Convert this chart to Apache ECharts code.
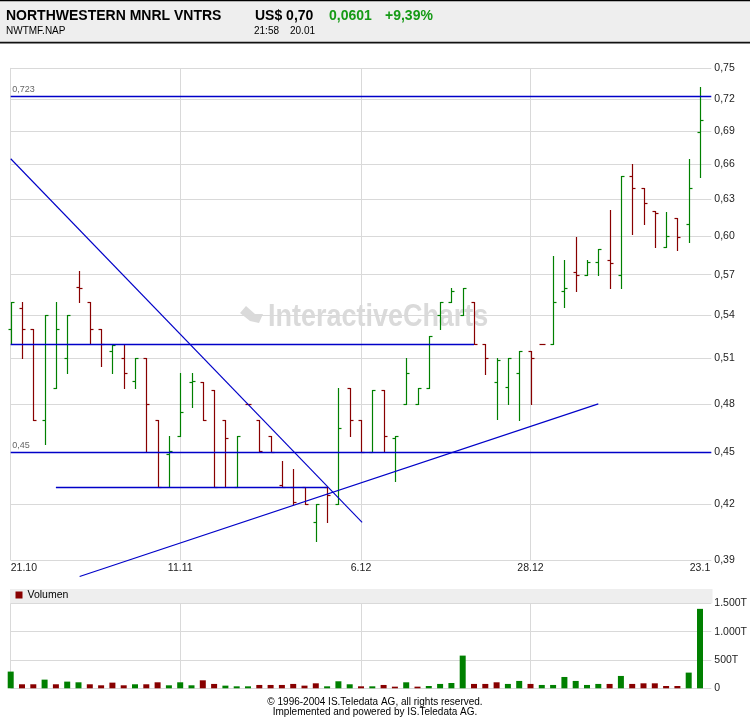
<!DOCTYPE html>
<html>
<head>
<meta charset="utf-8">
<script src="https://cdn.jsdelivr.net/npm/echarts@6/dist/echarts.min.js"></script>
<style>
html,body{margin:0;padding:0;background:#fff;}
#chart{width:750px;height:717px;}
</style>
</head>
<body>
<div id="chart"></div>
<script>
// ---------- data ----------
const dates = ['21.10','22.10','23.10','24.10','27.10','28.10','29.10','30.10','31.10','3.11',
  '4.11','5.11','6.11','7.11','10.11','11.11','12.11','13.11','14.11','17.11',
  '18.11','19.11','20.11','21.11','24.11','25.11','26.11','28.11','1.12','3.12',
  '4.12','6.12','8.12','9.12','10.12','11.12','12.12','15.12','16.12','17.12',
  '18.12','19.12','22.12','23.12','24.12','26.12','28.12','29.12','30.12','31.12',
  '2.1','5.1','6.1','7.1','8.1','9.1','12.1','13.1','14.1','15.1','16.1','23.1'];

const openP  = [0.530,0.545,0.530,0.470,0.490,0.510,0.561,0.550,0.530,0.515,
  0.510,0.495,0.510,0.470,0.449,0.460,0.494,0.494,0.489,0.470,
  0.430,0.480,0.470,0.460,0.431,0.430,0.430,0.410,0.430,0.420,
  0.490,0.470,0.450,0.489,0.459,0.480,0.480,0.490,0.540,0.550,
  0.540,0.550,0.520,0.494,0.491,0.500,0.515,0.520,0.520,0.558,
  0.572,0.570,0.580,0.581,0.570,0.650,0.640,0.620,0.591,0.615,0.610,0.689];
const highP  = [0.550,0.550,0.530,0.540,0.550,0.540,0.573,0.550,0.530,0.520,
  0.520,0.510,0.510,0.470,0.460,0.500,0.500,0.494,0.489,0.470,
  0.460,0.480,0.470,0.460,0.445,0.440,0.430,0.420,0.430,0.490,
  0.490,0.470,0.489,0.489,0.460,0.510,0.490,0.525,0.550,0.560,
  0.560,0.550,0.520,0.510,0.510,0.515,0.515,0.520,0.584,0.581,
  0.599,0.581,0.590,0.621,0.650,0.660,0.640,0.620,0.6195,0.615,0.665,0.732];
const lowP   = [0.520,0.510,0.470,0.455,0.490,0.500,0.550,0.520,0.505,0.500,
  0.490,0.490,0.450,0.430,0.430,0.460,0.478,0.470,0.430,0.430,
  0.430,0.480,0.450,0.450,0.430,0.420,0.420,0.400,0.410,0.420,
  0.460,0.450,0.450,0.450,0.433,0.480,0.480,0.490,0.530,0.550,
  0.540,0.520,0.4995,0.4705,0.480,0.470,0.480,0.520,0.520,0.546,
  0.558,0.570,0.570,0.560,0.560,0.602,0.610,0.591,0.591,0.589,0.595,0.649];
const closeP = [0.550,0.530,0.470,0.540,0.530,0.540,0.560,0.530,0.520,0.519,
  0.500,0.510,0.480,0.430,0.451,0.475,0.495,0.470,0.430,0.459,
  0.460,0.480,0.451,0.450,0.430,0.421,0.420,0.420,0.425,0.465,
  0.470,0.450,0.489,0.460,0.460,0.500,0.490,0.525,0.550,0.558,
  0.560,0.520,0.510,0.509,0.510,0.515,0.510,0.520,0.550,0.560,
  0.570,0.580,0.590,0.579,0.650,0.640,0.627,0.619,0.600,0.599,0.640,0.700];

// volume in thousands (T)
const volumeT = [295,71,71,153,71,118,106,71,53,100,
  53,71,71,106,53,106,53,141,77,47,
  35,35,59,59,59,77,47,88,35,124,
  71,35,35,59,29,106,29,41,77,94,
  577,77,77,106,77,130,77,59,59,200,
  130,59,77,77,218,77,88,88,41,41,277,1402];

const priceTicks  = [0.39,0.42,0.45,0.48,0.51,0.54,0.57,0.60,0.63,0.66,0.69,0.72,0.75];
const volumeTicks = [0,500,1000,1500];
const dateLabelIdx = [0,15,31,46,61];
const dateGridIdx  = [0,15,31,46];

// trend / support lines drawn on the chart: [x0, price0, x1, price1]
const trendLines  = [[0,0.723,62,0.723],[0,0.52,41,0.52],[0,0.45,62,0.45],[4,0.43,28,0.43],
                     [0,0.665,31.1,0.410],[6.1,0.3815,52,0.48]];
const trendLabels = ['0,723','','0,45','','',''];

// ---------- styling ----------
const GREEN = '#008000', RED = '#880000', BLUE = '#0000c8', GRID = '#d9d9d9';
const FONT = 'Liberation Sans, Arial, sans-serif';
const NBARS = dates.length;
const fmtPrice = v => v.toFixed(2).replace('.', ',');
const fmtVol = v => v === 0 ? '0' : (v >= 1000 ? Math.floor(v/1000) + '.' + String(v % 1000).padStart(3,'0') + 'T' : v + 'T');

const ohlcRows = dates.map((d,i) => [i, openP[i], highP[i], lowP[i], closeP[i]]);
const volRows = volumeT.map((v,i) => [i, v]);

const chart = echarts.init(document.getElementById('chart'), null, {renderer:'canvas'});

const gridW = 62 * 11.3;
chart.setOption({
  animation: false,
  backgroundColor: '#fff',
  textStyle: {fontFamily: FONT},
  grid: [
    {left: 10.7, top: 68.3, width: gridW, height: 491.7},
    {left: 10.7, top: 603.3, width: gridW, height: 85}
  ],
  legend: {
    data: [{name: 'Volumen', itemStyle: {color: RED}}],
    left: 15.5, top: 589.5, padding: 0, itemWidth: 7, itemHeight: 7, icon: 'rect',
    selectedMode: false,
    textStyle: {fontSize: 10.5, color: '#000', fontFamily: FONT}
  },
  xAxis: [
    {type: 'value', gridIndex: 0, min: 0, max: NBARS,
     axisLine: {show: false}, axisTick: {show: false}, splitLine: {show: false},
     axisLabel: {customValues: dateLabelIdx, formatter: v => dates[v], fontSize: 10.5,
                 color: '#222', margin: 3, alignMinLabel: 'left', fontFamily: FONT}},
    {type: 'value', gridIndex: 1, min: 0, max: NBARS, show: false}
  ],
  yAxis: [
    {type: 'log', logBase: 10, gridIndex: 0, min: priceTicks[0], max: priceTicks[priceTicks.length-1],
     position: 'right',
     axisLine: {show: true, lineStyle: {color: GRID}}, axisTick: {show: false},
     axisLabel: {show: false}, splitLine: {show: false}},
    {type: 'value', gridIndex: 1, min: volumeTicks[0], max: volumeTicks[volumeTicks.length-1],
     interval: volumeTicks[1] - volumeTicks[0], position: 'right',
     axisLine: {show: false}, axisTick: {show: false},
     axisLabel: {formatter: fmtVol, fontSize: 10.5, color: '#222', margin: 3, fontFamily: FONT},
     splitLine: {lineStyle: {color: GRID, width: 1}}}
  ],
  graphic: [
    {type: 'rect', z: -10, shape: {x: 0, y: 0, width: 750, height: 43}, style: {fill: '#eeeeee'}},
    {type: 'rect', z: -9, shape: {x: 0, y: 0, width: 750, height: 1.2}, style: {fill: '#000'}},
    {type: 'rect', z: -9, shape: {x: 0, y: 41.8, width: 750, height: 1.8}, style: {fill: '#111'}},
    {type: 'text', x: 6, y: 16, style: {text: 'NORTHWESTERN MNRL VNTRS', font: 'bold 14px ' + FONT, fill: '#000', verticalAlign: 'middle'}},
    {type: 'text', x: 255, y: 16, style: {text: 'US$ 0,70', font: 'bold 14px ' + FONT, fill: '#000', verticalAlign: 'middle'}},
    {type: 'text', x: 329, y: 16, style: {text: '0,0601', font: 'bold 14px ' + FONT, fill: '#159a15', verticalAlign: 'middle'}},
    {type: 'text', x: 385, y: 16, style: {text: '+9,39%', font: 'bold 14px ' + FONT, fill: '#159a15', verticalAlign: 'middle'}},
    {type: 'text', x: 6, y: 31.5, style: {text: 'NWTMF.NAP', font: '10px ' + FONT, fill: '#000', verticalAlign: 'middle'}},
    {type: 'text', x: 254, y: 31.5, style: {text: '21:58', font: '10px ' + FONT, fill: '#000', verticalAlign: 'middle'}},
    {type: 'text', x: 290, y: 31.5, style: {text: '20.01', font: '10px ' + FONT, fill: '#000', verticalAlign: 'middle'}},
    // watermark
    {type: 'polygon', z: -5, shape: {points: [[240,313],[246,306],[255,314],[263,314],[259,323],[250,321]]}, style: {fill: '#dadada'}},
    {type: 'text', z: -5, x: 268, y: 317, scaleX: 0.87, style: {text: 'InteractiveCharts', font: 'bold 31px ' + FONT, fill: '#dadada', verticalAlign: 'middle'}},
    // volume band
    {type: 'rect', z: -10, shape: {x: 10, y: 589, width: 702.5, height: 14.3}, style: {fill: '#eeeeee'}},
    // footer
    {type: 'text', x: 375, y: 702, style: {text: '\u00A9 1996-2004 IS.Teledata AG, all rights reserved.', font: '10px ' + FONT, fill: '#000', align: 'center', verticalAlign: 'middle'}},
    {type: 'text', x: 375, y: 712, style: {text: 'Implemented and powered by IS.Teledata AG.', font: '10px ' + FONT, fill: '#000', align: 'center', verticalAlign: 'middle'}}
  ],
  series: [
    {
      type: 'custom', name: 'Kurs', xAxisIndex: 0, yAxisIndex: 0, z: 2, clip: false,
      encode: {x: 0, y: [1,2,3,4]},
      data: ohlcRows,
      renderItem: function (params, api) {
        const i = api.value(0), o = api.value(1), h = api.value(2), l = api.value(3), c = api.value(4);
        const pH = api.coord([i, h]), pL = api.coord([i, l]), pO = api.coord([i, o]), pC = api.coord([i, c]);
        const x = Math.round(pH[0]) + 0.5;
        const col = c > o ? GREEN : RED;
        const st = {stroke: col, lineWidth: 1.2};
        const yo = Math.round(pO[1]) + 0.5, yc = Math.round(pC[1]) + 0.5;
        return {type: 'group', children: [
          {type: 'line', shape: {x1: x, y1: Math.round(pH[1]), x2: x, y2: Math.round(pL[1]) + 1}, style: st},
          {type: 'line', shape: {x1: x - 3, y1: yo, x2: x, y2: yo}, style: st},
          {type: 'line', shape: {x1: x, y1: yc, x2: x + 3, y2: yc}, style: st}
        ]};
      },
      markLine: {
        silent: true, symbol: ['none','none'], z: 1, animation: false,
        lineStyle: {color: GRID, type: 'solid', width: 1},
        label: {show: true, position: 'end', distance: 3, fontSize: 10.5, color: '#222', fontFamily: FONT},
        emphasis: {disabled: true},
        data: priceTicks.map(v => ({yAxis: v, label: {formatter: fmtPrice(v)}}))
              .concat(dateGridIdx.map(i => ({xAxis: i, label: {show: false}})))
      }
    },
    {
      type: 'custom', name: 'Trend', xAxisIndex: 0, yAxisIndex: 0, z: 3, clip: false, silent: true,
      encode: {x: [0,2], y: [1,3]},
      data: trendLines,
      renderItem: function (params, api) {
        const p0 = api.coord([api.value(0), api.value(1)]);
        const p1 = api.coord([api.value(2), api.value(3)]);
        const horiz = Math.abs(p0[1] - p1[1]) < 0.5;
        const y0 = horiz ? Math.round(p0[1]) + 0.5 : p0[1];
        const y1 = horiz ? Math.round(p1[1]) + 0.5 : p1[1];
        const children = [{type: 'line', shape: {x1: p0[0], y1: y0, x2: p1[0], y2: y1},
                           style: {stroke: BLUE, lineWidth: horiz ? 1.3 : 1.1}}];
        const lab = trendLabels[params.dataIndex];
        if (lab) {
          children.push({type: 'text', x: p0[0] + 1.5, y: y0 - 2,
            style: {text: lab, fill: '#666', fontSize: 9, fontFamily: FONT, align: 'left', verticalAlign: 'bottom'}});
        }
        return {type: 'group', children: children};
      }
    },
    {
      type: 'bar', name: 'Volumen', xAxisIndex: 1, yAxisIndex: 1, barWidth: 6, z: 2, clip: true,
      data: volRows,
      itemStyle: {color: p => (p.dataIndex === 0 || closeP[p.dataIndex] > closeP[p.dataIndex - 1]) ? GREEN : RED},
      markLine: {
        silent: true, symbol: ['none','none'], z: 1, animation: false,
        lineStyle: {color: GRID, type: 'solid', width: 1},
        label: {show: false}, emphasis: {disabled: true},
        data: dateGridIdx.map(i => ({xAxis: i}))
      }
    }
  ]
});
</script>
</body>
</html>
